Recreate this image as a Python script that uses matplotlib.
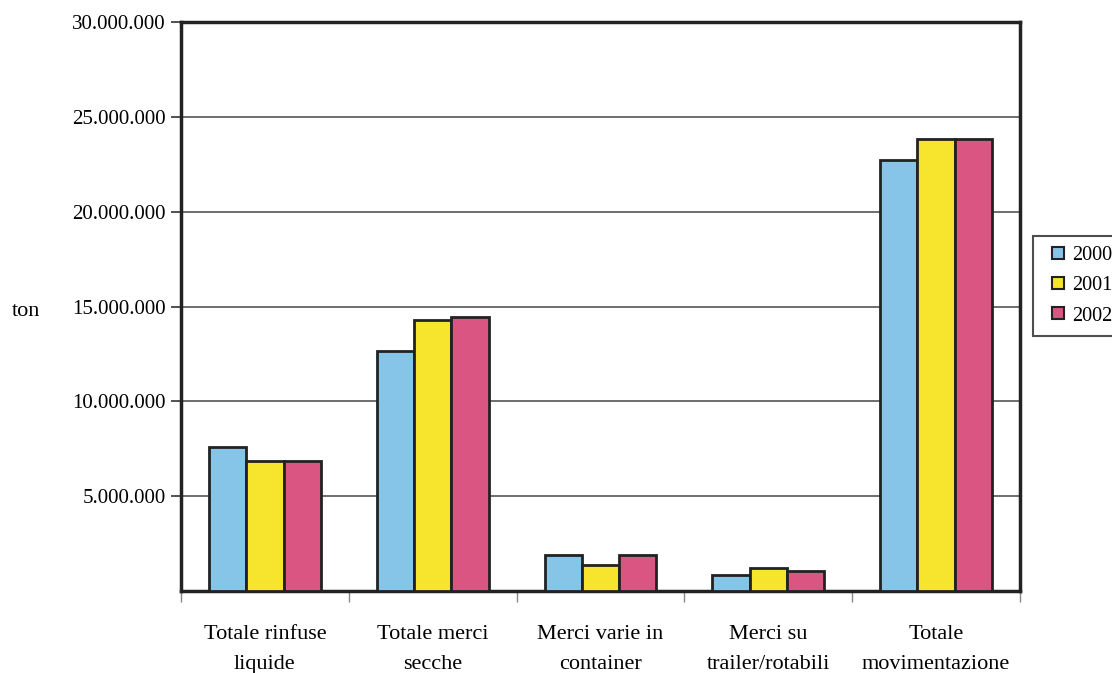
import matplotlib
matplotlib.use("Agg")
import matplotlib.pyplot as plt
import numpy as np
from matplotlib.lines import Line2D
from matplotlib.ticker import FuncFormatter

categories = ["Totale rinfuse\nliquide", "Totale merci\nsecche", "Merci varie in\ncontainer",
              "Merci su\ntrailer/rotabili", "Totale\nmovimentazione"]
years = ["2000", "2001", "2002"]
v2000 = [7600000, 12650000, 1890000, 860000, 22700000]
v2001 = [6880000, 14300000, 1370000, 1190000, 23850000]
v2002 = [6880000, 14440000, 1890000, 1070000, 23850000]
colors = ["#86c5e7", "#f6e42d", "#db5583"]
yticks = [5000000, 10000000, 15000000, 20000000, 25000000, 30000000]

plt.rcParams['font.family'] = ['Liberation Serif', 'DejaVu Serif']

fig = plt.figure(figsize=(11.12, 6.73), dpi=100)
ax = fig.add_axes([181/1112, 1-591/673, (1020-181)/1112, (591-22)/673])

x = np.arange(len(categories))
w = 0.222
for i, (vals, c) in enumerate(zip([v2000, v2001, v2002], colors)):
    ax.bar(x + (i-1)*w, vals, width=w, color=c, edgecolor="#222222", linewidth=2, zorder=3)

ax.set_xlim(-0.5, len(categories)-0.5)
ax.set_ylim(0, 30000000)
ax.set_yticks(yticks)
ax.yaxis.set_major_formatter(FuncFormatter(lambda v, p: f"{int(v):,}".replace(",", ".")))
ax.tick_params(axis='y', length=7, width=1.2, color="#333333", labelsize=15, pad=4, direction='out')
ax.grid(axis='y', color="#555555", linewidth=1.2, zorder=0)

ax.set_xticks(np.arange(len(categories)+1) - 0.5)
ax.set_xticklabels([])
ax.set_xticks(x, minor=True)
ax.set_xticklabels(categories, minor=True, fontsize=16, linespacing=1.78)
ax.tick_params(axis='x', which='major', length=8, width=1, color="#888888", direction='out')
ax.tick_params(axis='x', which='minor', length=0, pad=24.5)

for s in ["left", "bottom", "right", "top"]:
    ax.spines[s].set_linewidth(2.5)
    ax.spines[s].set_color("#222222")

fig.text(26/1112, 1-312/673, "ton", fontsize=16, ha="center", va="center")

handles = [Line2D([], [], linestyle="none", marker="s", markersize=8.5, markerfacecolor=c,
                  markeredgecolor="#222222", markeredgewidth=1.5) for c in colors]
leg = fig.legend(handles, years, loc="upper left", bbox_to_anchor=(1033/1112, 1-236/673),
                 fontsize=14.5, frameon=True, fancybox=False, handlelength=1.5,
                 handletextpad=-0.05, borderpad=0.5, labelspacing=0.55, borderaxespad=0)
leg.get_frame().set_edgecolor("#222222")
leg.get_frame().set_linewidth(1.5)

fig.savefig("out.png", dpi=100)
